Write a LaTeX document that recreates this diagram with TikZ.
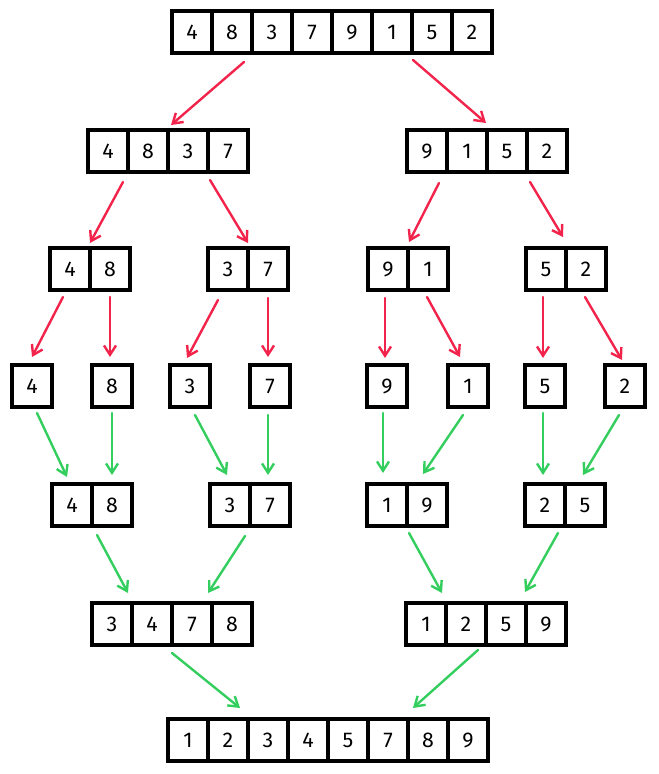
\documentclass[tikz,border=0pt]{standalone}
\usepackage{fontspec}
\setmainfont{Fira Sans}
\usetikzlibrary{arrows.meta,calc}
\definecolor{splitred}{RGB}{242,36,76}
\definecolor{mergegreen}{RGB}{52,206,94}
\tikzset{
  cell/.style={draw=black, line width=2.3pt, minimum width=30pt, minimum height=31.5pt,
    inner sep=0pt, outer sep=0pt, font=\fontsize{16}{16}\selectfont},
  splitarrow/.style={draw=splitred, line width=1.8pt, line cap=round,
    -{Straight Barb[length=7pt,width=9pt,line width=1.8pt]}},
  mergearrow/.style={draw=mergegreen, line width=1.8pt, line cap=round,
    -{Straight Barb[length=7pt,width=9pt,line width=1.8pt]}}
}
\newcommand\cellrow[4]{%
  \foreach \v [count=\i] in {#4}{\node[cell] (#1\i) at ({#2+20+40*(\i-1)},#3) {\v};}}
\begin{document}
\begin{tikzpicture}[x=0.75pt,y=-0.75pt]
\useasboundingbox (0,0) rectangle (658,774);
% row 1
\cellrow{t}{172}{32}{4,8,3,7,9,1,5,2}
% row 2
\cellrow{L}{88}{151}{4,8,3,7}
\cellrow{R}{407}{151}{9,1,5,2}
% row 3
\cellrow{A}{50}{269}{4,8}
\cellrow{B}{208}{269}{3,7}
\cellrow{C}{368}{269}{9,1}
\cellrow{D}{526}{269}{5,2}
% row 4
\node[cell] (sa) at (32,386) {4};
\node[cell] (sb) at (112,386) {8};
\node[cell] (sc) at (190,386) {3};
\node[cell] (sd) at (270,386) {7};
\node[cell] (se) at (387,386) {9};
\node[cell] (sf) at (468,386) {1};
\node[cell] (sg) at (545,386) {5};
\node[cell] (sh) at (625,386) {2};
% row 5
\cellrow{E}{52}{505}{4,8}
\cellrow{F}{210}{505}{3,7}
\cellrow{G}{367}{505}{1,9}
\cellrow{H}{525}{505}{2,5}
% row 6
\cellrow{P}{92}{624}{3,4,7,8}
\cellrow{Q}{406}{624}{1,2,5,9}
% row 7
\cellrow{Z}{168}{740}{1,2,3,4,5,7,8,9}
% split arrows
\draw[splitarrow] ($(t2.south)+(12,9)$) -- ($(L3.north)+(-17,-5)$);
\draw[splitarrow] ($(t7.south)+(-19,7)$) -- ($(R2.north)+(19,-7)$);
\draw[splitarrow] ($(L1.south)+(15,10)$) -- ($(A1.north)+(20,-5)$);
\draw[splitarrow] ($(L3.south)+(22,8)$) -- ($(B1.north)+(20,-5)$);
\draw[splitarrow] ($(R1.south)+(12,11)$) -- ($(C1.north)+(21,-6)$);
\draw[splitarrow] ($(R3.south)+(23,10)$) -- ($(D1.north)+(17,-11)$);
\draw[splitarrow] ($(A1.south)+(-7,7)$) -- ($(sa.north)+(0,-8)$);
\draw[splitarrow] ($(A2.south)+(0,7)$) -- ($(sb.north)+(-2,-8)$);
\draw[splitarrow] ($(B1.south)+(-10,10)$) -- ($(sc.north)+(-3,-7)$);
\draw[splitarrow] ($(B2.south)+(0,8)$) -- ($(sd.north)+(-2,-8)$);
\draw[splitarrow] ($(C1.south)+(-3,8)$) -- ($(se.north)+(-2,-7)$);
\draw[splitarrow] ($(C2.south)+(-1,7)$) -- ($(sf.north)+(-8,-8)$);
\draw[splitarrow] ($(D1.south)+(-3,7)$) -- ($(sg.north)+(-2,-7)$);
\draw[splitarrow] ($(D2.south)+(-1,7)$) -- ($(sh.north)+(-3,-5)$);
% merge arrows
\draw[mergearrow] ($(sa.south)+(5,6)$) -- ($(E1.north)+(-5,-7)$);
\draw[mergearrow] ($(sb.south)+(0,6)$) -- ($(E2.north)+(0,-9)$);
\draw[mergearrow] ($(sc.south)+(5,8)$) -- ($(F1.north)+(-3,-9)$);
\draw[mergearrow] ($(sd.south)+(-2,8)$) -- ($(F2.north)+(-2,-9)$);
\draw[mergearrow] ($(se.south)+(-4,6)$) -- ($(G1.north)+(-4,-11)$);
\draw[mergearrow] ($(sf.south)+(-5,8)$) -- ($(G2.north)+(-4,-10)$);
\draw[mergearrow] ($(sg.south)+(-2,6)$) -- ($(H1.north)+(-2,-9)$);
\draw[mergearrow] ($(sh.south)+(-6,8)$) -- ($(H2.north)+(-2,-9)$);
\draw[mergearrow] ($(E1.south)+(25,9)$) -- ($(P1.north)+(16,-10)$);
\draw[mergearrow] ($(F1.south)+(15,10)$) -- ($(P3.north)+(16,-10)$);
\draw[mergearrow] ($(G1.south)+(22,7)$) -- ($(Q1.north)+(16,-10)$);
\draw[mergearrow] ($(H1.south)+(13,7)$) -- ($(Q3.north)+(19,-11)$);
\draw[mergearrow] ($(P2.south)+(20,8)$) -- ($(Z2.north)+(12,-11)$);
\draw[mergearrow] ($(Q2.south)+(12,5)$) -- ($(Z7.north)+(-15,-11)$);
\end{tikzpicture}
\end{document}
